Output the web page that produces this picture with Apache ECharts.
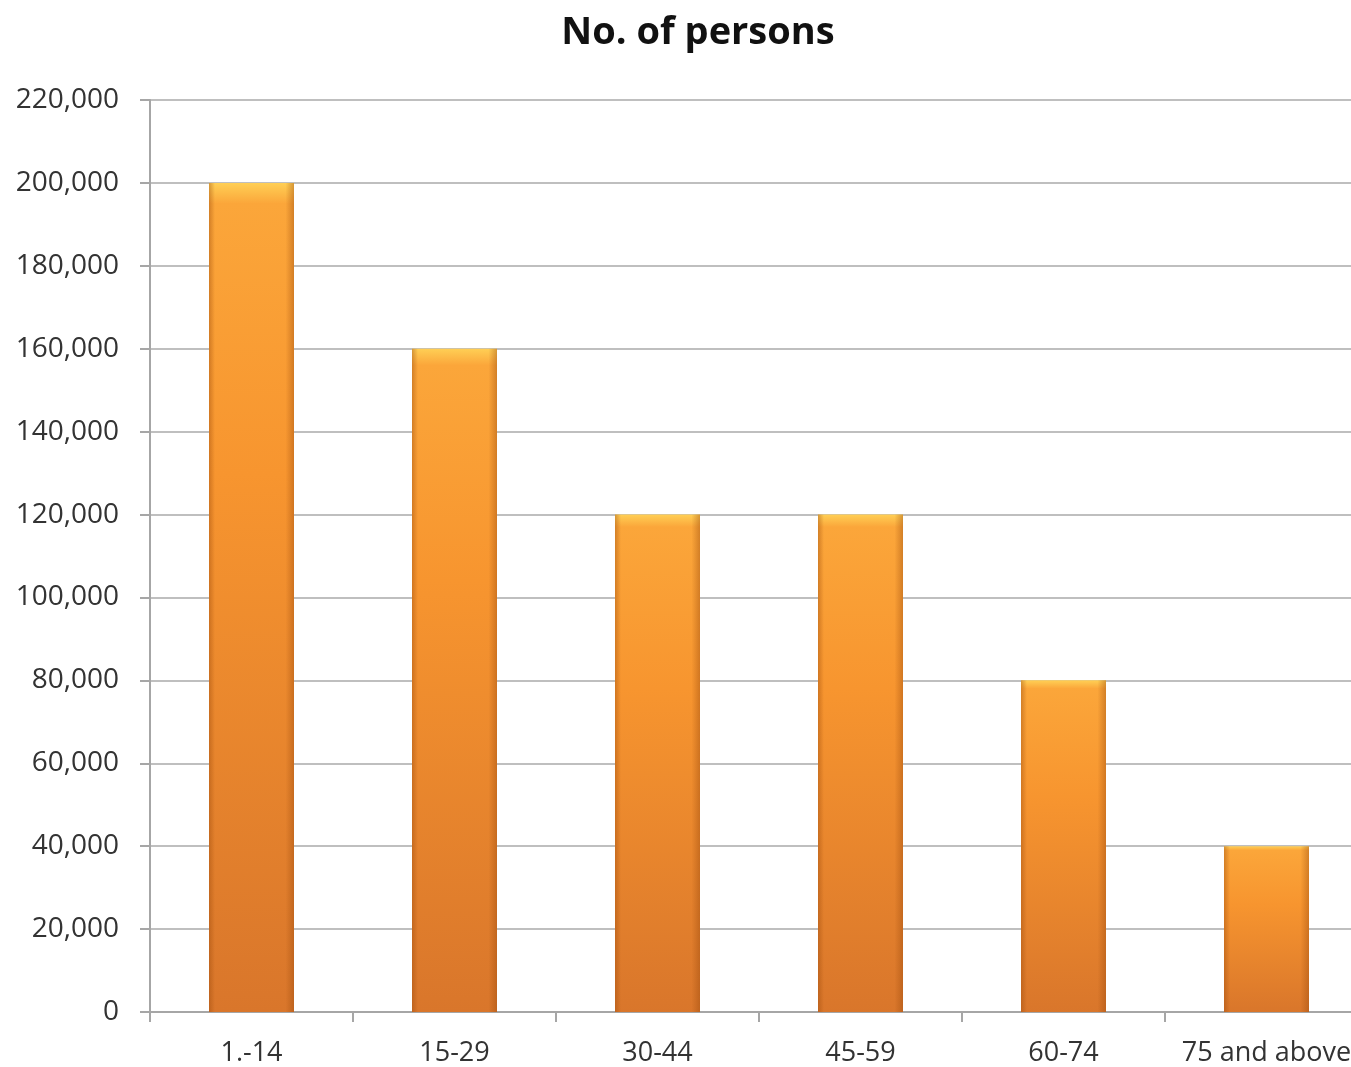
<!DOCTYPE html>
<html>
<head>
<meta charset="utf-8">
<script src="https://cdn.jsdelivr.net/npm/echarts@6/dist/echarts.min.js"></script>
<style>
html,body{margin:0;padding:0;background:#fff;overflow:hidden;width:1351px;height:1067px;}
#c{width:1369px;height:1067px;}
</style>
</head>
<body>
<div id="c"></div>
<script>
const titleText = "No. of persons";
const categories = ["1.-14", "15-29", "30-44", "45-59", "60-74", "75 and above"];
const persons = [200000, 160000, 120000, 120000, 80000, 40000];
const yMin = 0, yMax = 220000, yStep = 20000;

const chart = echarts.init(document.getElementById('c'));
const font = '"Open Sans", "Liberation Sans", sans-serif';
chart.setOption({
  animation: false,
  backgroundColor: '#ffffff',
  title: {
    text: titleText,
    left: 693, top: 9,
    textAlign: 'center',
    textStyle: {fontFamily: font, fontWeight: 'bold', fontSize: 38, color: '#111'}
  },
  grid: {left: 150, right: 1, top: 100, bottom: 54, containLabel: false},
  xAxis: {
    type: 'category',
    data: categories,
    axisLine: {lineStyle: {color: '#a6a6a6', width: 2}},
    axisTick: {show: true, interval: 0, length: 10, lineStyle: {color: '#a6a6a6', width: 2}},
    axisLabel: {interval: 0, hideOverlap: false, fontFamily: font, fontSize: 27, color: '#333', margin: 28}
  },
  yAxis: {
    type: 'value',
    min: yMin, max: yMax, interval: yStep,
    axisLine: {show: true, lineStyle: {color: '#a6a6a6', width: 2}},
    axisTick: {show: true, length: 10, lineStyle: {color: '#a6a6a6', width: 2}},
    splitLine: {lineStyle: {color: '#bfbfbf', width: 2}},
    axisLabel: {fontFamily: font, fontSize: 28, color: '#333', margin: 31,
      formatter: v => v.toLocaleString('en-US')}
  },
  series: [{
    type: 'bar',
    data: persons,
    barWidth: 85,
    itemStyle: {
      color: new echarts.graphic.LinearGradient(0, 0, 0, 1, [
        {offset: 0, color: '#ffcf55'},
        {offset: 0.025, color: '#fba63a'},
        {offset: 0.35, color: '#f7952f'},
        {offset: 1, color: '#d9762b'}
      ])
    }
  }, {
    type: 'bar',
    data: persons,
    barWidth: 85,
    barGap: '-100%',
    silent: true,
    itemStyle: {
      color: new echarts.graphic.LinearGradient(0, 0, 1, 0, [
        {offset: 0, color: 'rgba(150,70,10,0.4)'},
        {offset: 0.07, color: 'rgba(150,70,10,0.0)'},
        {offset: 0.9, color: 'rgba(150,70,10,0.0)'},
        {offset: 1, color: 'rgba(150,70,10,0.4)'}
      ])
    }
  }]
});
</script>
</body>
</html>
